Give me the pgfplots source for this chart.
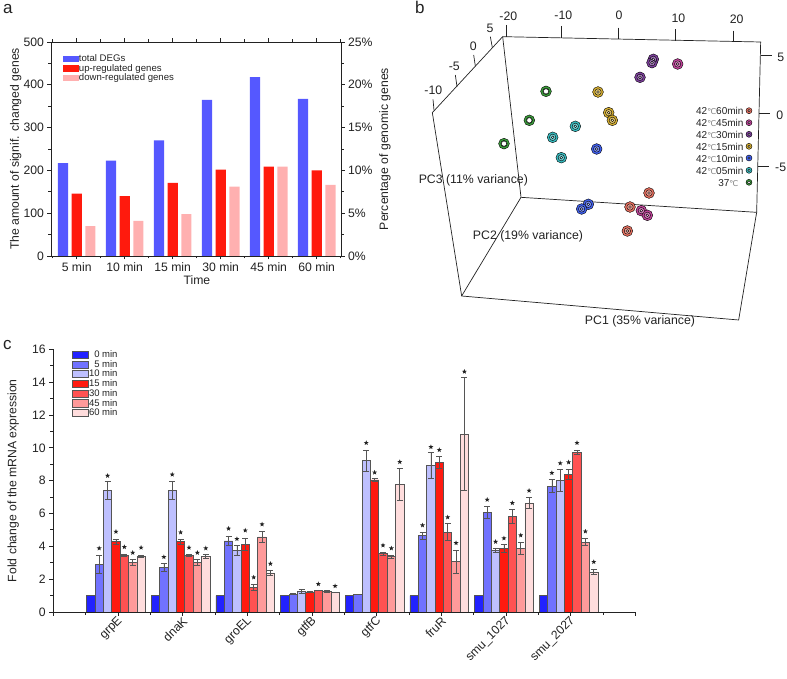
\documentclass[border=0pt]{standalone}
\usepackage{fontspec}
\usepackage{pgfplots}
\usepackage{pgfplotstable}
\pgfplotsset{compat=1.18}
\setmainfont{Liberation Sans}
\newfontfamily\djfont{DejaVu Sans}
\definecolor{ink}{HTML}{222222}
\definecolor{ablue}{HTML}{5558FF}
\definecolor{ared}{HTML}{FF1A0D}
\definecolor{apink}{HTML}{FFB0B0}
\definecolor{c0}{HTML}{2222FF}
\definecolor{c1}{HTML}{7172FF}
\definecolor{c2}{HTML}{BEC0FF}
\definecolor{c3}{HTML}{FF1A10}
\definecolor{c4}{HTML}{FF5252}
\definecolor{c5}{HTML}{FF9A9A}
\definecolor{c6}{HTML}{FFDDDD}
\definecolor{edgec}{HTML}{555555}
\definecolor{bsal}{HTML}{E8705F}
\definecolor{bmag}{HTML}{C2429B}
\definecolor{bpur}{HTML}{7E3F9E}
\definecolor{byel}{HTML}{D8B030}
\definecolor{bblu}{HTML}{3F5FF0}
\definecolor{btea}{HTML}{35BCC0}
\definecolor{bgre}{HTML}{3A9E3A}
\newcommand\fs[1]{\fontsize{#1}{#1}\selectfont}
\pgfdeclareplotmark{fstar}{%
 \pgfpathmoveto{\pgfpointpolar{90}{\pgfplotmarksize}}%
 \pgfpathlineto{\pgfpointpolar{126}{0.42\pgfplotmarksize}}%
 \pgfpathlineto{\pgfpointpolar{162}{\pgfplotmarksize}}%
 \pgfpathlineto{\pgfpointpolar{198}{0.42\pgfplotmarksize}}%
 \pgfpathlineto{\pgfpointpolar{234}{\pgfplotmarksize}}%
 \pgfpathlineto{\pgfpointpolar{270}{0.42\pgfplotmarksize}}%
 \pgfpathlineto{\pgfpointpolar{306}{\pgfplotmarksize}}%
 \pgfpathlineto{\pgfpointpolar{342}{0.42\pgfplotmarksize}}%
 \pgfpathlineto{\pgfpointpolar{18}{\pgfplotmarksize}}%
 \pgfpathlineto{\pgfpointpolar{54}{0.42\pgfplotmarksize}}%
 \pgfpathclose\pgfusepathqfill}
% panel c tables
\pgfplotstableread{
g val err
1 1 0
2 1 0
3 1 0
4 1 0
5 1 0
6 1 0
7 1 0
8 1 0
}\tzero
\pgfplotstableread{
g val err
1 2.90 0.53
2 2.72 0.25
3 4.33 0.30
4 1.08 0.03
5 1.05 0.00
6 4.65 0.20
7 6.07 0.37
8 7.67 0.39
}\tfive
\pgfplotstableread{
g val err
1 7.41 0.55
2 7.41 0.55
3 3.76 0.28
4 1.26 0.12
5 9.22 0.63
6 8.93 0.79
7 3.76 0.14
8 8.02 0.65
}\tten
\pgfplotstableread{
g val err
1 4.28 0.15
2 4.28 0.15
3 4.12 0.39
4 1.22 0.05
5 8.04 0.08
6 9.12 0.37
7 3.88 0.22
8 8.39 0.30
}\tfifteen
\pgfplotstableread{
g val err
1 3.45 0.08
2 3.45 0.07
3 1.48 0.18
4 1.32 0.02
5 3.55 0.08
6 4.87 0.53
7 5.81 0.44
8 9.73 0.14
}\tthirty
\pgfplotstableread{
g val err
1 3.00 0.18
2 3.00 0.18
3 4.57 0.35
4 1.26 0.06
5 3.37 0.08
6 3.07 0.69
7 3.88 0.35
8 4.26 0.22
}\tfortyfive
\pgfplotstableread{
g val err
1 3.39 0.08
2 3.39 0.10
3 2.38 0.16
4 1.20 0.02
5 7.78 0.95
6 10.84 3.43
7 6.64 0.35
8 2.44 0.16
}\tsixty
\pgfplotstableread{
g k y
1 1 3.88
1 2 8.30
1 3 4.89
1 4 3.96
1 5 3.61
1 6 3.92
2 1 3.35
2 2 8.37
2 3 4.85
2 4 3.92
2 5 3.61
2 6 3.88
3 1 5.08
3 2 4.45
3 3 4.97
3 4 2.11
3 5 5.34
3 6 2.94
4 4 1.70
4 6 1.58
5 2 10.30
5 3 8.50
5 4 4.06
5 5 3.88
5 6 9.14
6 1 5.28
6 2 10.05
6 3 9.87
6 4 5.77
6 5 4.20
6 6 14.64
7 1 6.84
7 2 4.28
7 3 4.49
7 4 6.64
7 5 4.67
7 6 7.39
8 1 8.47
8 2 9.06
8 3 9.12
8 4 10.30
8 5 4.91
8 6 3.05
}\tstars
% pca point groups: outer colour, coordinates
\newcommand\pca[2]{%
 \addplot[only marks,mark=*,mark size=5.4pt,mark options={draw=none,fill=#1}] coordinates {#2};
 \addplot[only marks,mark=*,mark size=3.2pt,mark options={draw=none,fill=#1!70!white}] coordinates {#2};
 \addplot[only marks,mark=*,mark size=1.4pt,mark options={draw=none,fill=#1!30!white}] coordinates {#2};
}
\newcommand\pcaleg[2]{%
 \addplot[only marks,mark=*,mark size=3pt,mark options={draw=none,fill=#1}] coordinates {#2};
 \addplot[only marks,mark=*,mark size=1.2pt,mark options={draw=none,fill=#1!35!white}] coordinates {#2};
}
\newcommand\bline[1]{\addplot[color=ink,line width=0.7pt] coordinates {#1};}
\newcommand\cel{{\djfont\fs{8}\textcolor{gray}{℃}}}
\begin{document}
\begin{tikzpicture}[x=1pt,y=1pt]
\path[use as bounding box] (0,0) rectangle (787,679);
\node[anchor=base west,inner sep=0,text=ink] at (3,665) {\fs{17}a};
\node[anchor=base west,inner sep=0,text=ink] at (415,665) {\fs{17}b};
\node[anchor=base west,inner sep=0,text=ink] at (3,329) {\fs{17}c};
% ---------- panel a ----------
\begin{axis}[at={(51pt,423pt)},anchor=south west,scale only axis,width=290pt,height=214pt,
  xmin=0.465,xmax=6.506,ymin=0,ymax=500,
  /pgf/number format/assume math mode=true,
  axis line style={color=ink,line width=0.8pt},
  tick style={color=ink,line width=0.8pt},
  tick align=outside,
  major tick length=3.5pt,minor tick length=2.5pt,
  xtick={1,2,3,4,5,6},xticklabels={5 min,10 min,15 min,30 min,45 min,60 min},
  minor xtick={0.5,1.5,2.5,3.5,4.5,5.5,6.5},
  xtick pos=both,xticklabel pos=bottom,
  ytick={0,100,200,300,400,500},minor ytick={50,150,250,350,450},
  ytick pos=left,
  tick label style={font=\fs{12.2},color=ink},
  label style={font=\fs{12.2},color=ink},
  xlabel={Time},xlabel style={at={(axis description cs:0.503,0)},anchor=base,yshift=-29pt},
  ylabel={The amount of signif. changed genes},
  ylabel style={at={(axis description cs:0,0.5)},anchor=base,yshift=32pt},
  legend style={draw=none,fill=none,font=\fs{9.6},color=ink,inner sep=0pt,at={(axis cs:0.72,472)},anchor=north west,
    row sep=0pt,nodes={inner sep=0pt,minimum height=9.5pt}},
  legend cell align=left,
  legend image code/.code={\fill[#1] (0pt,-3.4pt) rectangle (15.5pt,3.4pt);},
  ]
\addplot[ybar,bar width=10.2pt,bar shift=-13.7pt,fill=ablue,draw=none] coordinates {(1,217)(2,223)(3,270)(4,365)(5,418)(6,367)};
\addplot[ybar,bar width=10.2pt,bar shift=0pt,fill=ared,draw=none] coordinates {(1,146)(2,140)(3,171)(4,202)(5,209)(6,200)};
\addplot[ybar,bar width=10.2pt,bar shift=13.7pt,fill=apink,draw=none] coordinates {(1,70)(2,82)(3,98)(4,162)(5,209)(6,166)};
\legend{total DEGs,up-regulated genes,down-regulated genes}
\end{axis}
\begin{axis}[at={(51pt,423pt)},anchor=south west,scale only axis,width=290pt,height=214pt,
  xmin=0,xmax=1,ymin=0,ymax=25,hide x axis,
  axis y line*=right,
  /pgf/number format/assume math mode=true,
  axis line style={color=ink,line width=0.8pt,-},
  tick style={color=ink,line width=0.8pt},
  tick align=outside,
  major tick length=3.5pt,minor tick length=2.5pt,
  ytick={0,5,10,15,20,25},minor ytick={2.5,7.5,12.5,17.5,22.5},
  yticklabel={\pgfmathprintnumber{\tick}\%},
  tick label style={font=\fs{12.2},color=ink},
  ylabel={Percentage of genomic genes},
  ylabel style={font=\fs{12.2},color=ink,at={(axis description cs:1,0.5)},anchor=base,yshift=-47pt},
  ]
\addplot[draw=none,forget plot] coordinates {(0,0)(1,25)};
\end{axis}
% ---------- panel b (coordinates on the projected figure plane) ----------
\begin{axis}[at={(400pt,339pt)},anchor=south west,scale only axis,width=387pt,height=340pt,
  xmin=0,xmax=1161,ymin=0,ymax=1020,y dir=reverse,axis lines=none,clip=false]
\bline{(308,110)(1082,126)(1070,637)(363,592)(308,110)}
\bline{(308,110)(97,338)(185,888)(1016,960)(1070,637)}
\bline{(185,888)(363,592)}
\bline{(320,75)(320,110)}
\bline{(485,78)(485,113)}
\bline{(654,83)(654,116)}
\bline{(825,88)(825,122)}
\bline{(1000,92)(1000,125)}
\bline{(1082,165)(1115,165)}
\bline{(1078,340)(1110,340)}
\bline{(1075,500)(1108,500)}
\bline{(271,110)(277,143)}
\bline{(221,165)(226,198)}
\bline{(166,225)(171,260)}
\bline{(99,298)(102,331)}
\pca{bgre}{(438,274)(388,361)(312,431)}
\addplot[only marks,mark=*,mark size=2.6pt,mark options={draw=none,fill=white}] coordinates {(438,274)(388,361)(312,431)};
\pca{btea}{(526,379)(458,412)(484,473)}
\pca{byel}{(594,276)(626,338)(637,361)}
\pca{bblu}{(590,447)(565,613)(545,627)}
\pca{bpur}{(760,178)(756,188)(720,232)}
\pca{bmag}{(833,192)(724,632)(742,646)}
\pca{bsal}{(747,579)(690,621)(682,693)}
\pcaleg{bsal}{(1047,332)}
\pcaleg{bmag}{(1047,368)}
\pcaleg{bpur}{(1047,403)}
\pcaleg{byel}{(1047,439)}
\pcaleg{bblu}{(1047,474)}
\pcaleg{btea}{(1047,511)}
\pcaleg{bgre}{(1047,547)}
\addplot[only marks,mark=*,mark size=1.5pt,mark options={draw=none,fill=white}] coordinates {(1047,547)};
\begin{scope}[every node/.style={font=\fs{10},text=ink,inner sep=0,anchor=east}]
\node at (axis cs:1031,332) {42\cel 60min};
\node at (axis cs:1031,370) {42\cel 45min};
\node at (axis cs:1031,405) {42\cel 30min};
\node at (axis cs:1031,441) {42\cel 15min};
\node at (axis cs:1031,478) {42\cel 10min};
\node at (axis cs:1031,513) {42\cel 05min};
\node at (axis cs:1016,548) {37\cel};
\end{scope}
\begin{scope}[every node/.style={font=\fs{12.3},text=ink,inner sep=0}]
\node at (axis cs:220,540) {PC3 (11\% variance)};
\node at (axis cs:384,710) {PC2 (19\% variance)};
\node at (axis cs:720,963) {PC1 (35\% variance)};
\node at (axis cs:325,48) {-20};
\node at (axis cs:490,45) {-10};
\node at (axis cs:657,47) {0};
\node at (axis cs:835,55) {10};
\node at (axis cs:1010,58) {20};
\node at (axis cs:1142,172) {5};
\node at (axis cs:1139,345) {0};
\node at (axis cs:1142,503) {-5};
\node at (axis cs:270,85) {5};
\node at (axis cs:220,138) {0};
\node at (axis cs:163,198) {-5};
\node at (axis cs:100,270) {-10};
\end{scope}
\end{axis}
% ---------- panel c ----------
\begin{axis}[at={(53.3pt,67pt)},anchor=south west,scale only axis,width=582pt,height=262.7pt,
  xmin=0,xmax=9,ymin=0,ymax=16,
  axis x line*=bottom,axis y line*=left,
  /pgf/number format/assume math mode=true,
  axis line style={color=ink,line width=0.9pt,-},
  tick style={color=ink,line width=0.9pt},
  tick align=outside,
  major tick length=5pt,minor tick length=3pt,
  xtick={0,1,2,3,4,5,6,7,8,9},
  xticklabels={,grpE,dnaK,groEL,gtfB,gtfC,fruR,smu\_1027,smu\_2027,},
  minor xtick={0.5,1.5,2.5,3.5,4.5,5.5,6.5,7.5,8.5},
  ytick={0,2,4,6,8,10,12,14,16},minor ytick={1,3,5,7,9,11,13,15},
  major tick length=4pt,
  tick label style={font=\fs{12.2},color=ink},
  x tick label style={rotate=45,anchor=east,xshift=3pt,yshift=-4pt},
  ylabel={Fold change of the mRNA expression},
  ylabel style={font=\fs{12.2},color=ink,at={(axis description cs:0,0.5)},anchor=base,yshift=37pt},
  legend style={draw=none,fill=none,font=\fs{9.5},color=ink,inner sep=0pt,at={(axis description cs:0.032,0.998)},anchor=north west,
    row sep=0pt,nodes={inner sep=0pt,minimum height=9.7pt}},
  legend cell align=right,
  legend image code/.code={\draw[#1,line width=0.9pt] (0pt,-3.6pt) rectangle (16pt,3.6pt);},
  error bars/y dir=both,error bars/y explicit,
  error bars/error bar style={color=edgec,line width=0.7pt},
  error bars/error mark options={rotate=90,mark size=3pt,color=edgec,line width=0.7pt},
  ]
\addplot[ybar,bar width=8.38pt,bar shift=0pt,draw=edgec,line width=0.8pt,fill=c0,error bars/y dir=none] table[x expr=\thisrow{g}-0.031-3*0.1296,y=val] {\tzero};
\addplot[ybar,bar width=8.38pt,bar shift=0pt,draw=edgec,line width=0.8pt,fill=c1] table[x expr=\thisrow{g}-0.031-2*0.1296,y=val,y error=err] {\tfive};
\addplot[ybar,bar width=8.38pt,bar shift=0pt,draw=edgec,line width=0.8pt,fill=c2] table[x expr=\thisrow{g}-0.031-0.1296,y=val,y error=err] {\tten};
\addplot[ybar,bar width=8.38pt,bar shift=0pt,draw=edgec,line width=0.8pt,fill=c3] table[x expr=\thisrow{g}-0.031,y=val,y error=err] {\tfifteen};
\addplot[ybar,bar width=8.38pt,bar shift=0pt,draw=edgec,line width=0.8pt,fill=c4] table[x expr=\thisrow{g}-0.031+0.1296,y=val,y error=err] {\tthirty};
\addplot[ybar,bar width=8.38pt,bar shift=0pt,draw=edgec,line width=0.8pt,fill=c5] table[x expr=\thisrow{g}-0.031+2*0.1296,y=val,y error=err] {\tfortyfive};
\addplot[ybar,bar width=8.38pt,bar shift=0pt,draw=edgec,line width=0.8pt,fill=c6] table[x expr=\thisrow{g}-0.031+3*0.1296,y=val,y error=err] {\tsixty};
\legend{0 min,5 min,10 min,15 min,30 min,45 min,60 min}
\addplot[only marks,mark=fstar,mark size=2.6pt,color=ink,forget plot,error bars/y dir=none] table[x expr=\thisrow{g}-0.031+(\thisrow{k}-3)*0.1296,y=y] {\tstars};
\end{axis}
\end{tikzpicture}
\end{document}
